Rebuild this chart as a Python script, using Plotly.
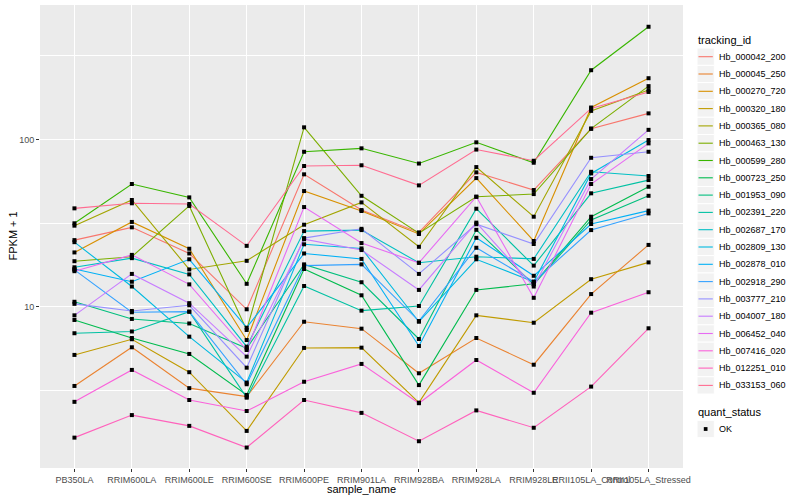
import plotly.graph_objects as go

samples = ["PB350LA", "RRIM600LA", "RRIM600LE", "RRIM600SE", "RRIM600PE",
           "RRIM901LA", "RRIM928BA", "RRIM928LA", "RRIM928LE",
           "RRII105LA_Control", "RRII105LA_Stressed"]

tracking_ids = ["Hb_000042_200", "Hb_000045_250", "Hb_000270_720", "Hb_000320_180",
                "Hb_000365_080", "Hb_000463_130", "Hb_000599_280", "Hb_000723_250",
                "Hb_001953_090", "Hb_002391_220", "Hb_002687_170", "Hb_002809_130",
                "Hb_002878_010", "Hb_002918_290", "Hb_003777_210", "Hb_004007_180",
                "Hb_006452_040", "Hb_007416_020", "Hb_012251_010", "Hb_033153_060"]

colors = ["#F8766D", "#EA8331", "#D89000", "#C09B00", "#A3A500", "#7CAE00", "#39B600",
          "#00BB4E", "#00BF7D", "#00C1A3", "#00BFC4", "#00BAE0", "#00B0F6", "#35A2FF",
          "#9590FF", "#C77CFF", "#E76BF3", "#FA62DB", "#FF62BC", "#FF6C91"]

# FPKM + 1 values, one list per gene, in sample order
Hb_000042_200 = [25.0, 29.8, 20.8, 9.65, 61.8, 37.8, 27.8, 63.5, 49.8, 115.7, 143]
Hb_000045_250 = [3.36, 5.72, 3.26, 2.90, 8.13, 7.39, 4.00, 6.50, 4.50, 11.9, 23.4]
Hb_000270_720 = [21.1, 32.1, 22.2, 6.32, 49.1, 37.3, 27.2, 58.7, 24.7, 155, 232]
Hb_000320_180 = [5.15, 6.39, 4.06, 1.81, 5.67, 5.69, 2.67, 8.88, 8.02, 14.6, 18.4]
Hb_000365_080 = [30.5, 43.4, 16.7, 18.8, 30.9, 42.0, 22.8, 68.3, 34.5, 148, 197]
Hb_000463_130 = [18.7, 19.9, 40.0, 7.26, 118, 46.0, 27.5, 45.4, 47.1, 116, 208]
Hb_000599_280 = [31.5, 54.1, 45.0, 13.7, 84.3, 88.4, 71.7, 96.0, 72.5, 259, 471]
Hb_000723_250 = [8.33, 6.50, 5.22, 2.97, 16.8, 11.7, 3.40, 12.6, 13.7, 34.5, 52.1]
Hb_001953_090 = [10.7, 8.45, 7.94, 5.64, 17.9, 14.0, 6.41, 28.8, 13.6, 33.0, 46.0]
Hb_002391_220 = [6.94, 7.11, 9.34, 2.86, 13.3, 9.47, 10.1, 38.5, 17.6, 47.6, 57.1]
Hb_002687_170 = [17.2, 19.5, 15.6, 5.77, 28.3, 28.7, 18.3, 19.9, 19.3, 64.0, 60.4]
Hb_002809_130 = [24.3, 13.2, 6.62, 3.52, 23.6, 22.3, 8.13, 19.2, 14.1, 62.6, 99.1]
Hb_002878_010 = [16.8, 14.1, 19.2, 7.49, 20.8, 19.3, 5.82, 25.8, 15.3, 31.2, 37.5]
Hb_002918_290 = [16.6, 9.26, 9.34, 3.44, 17.6, 17.9, 8.21, 22.5, 14.1, 28.7, 36.1]
Hb_003777_210 = [10.4, 9.43, 10.2, 4.32, 25.7, 29.2, 15.7, 31.1, 23.7, 77.6, 84.3]
Hb_004007_180 = [8.88, 15.7, 10.5, 5.03, 25.3, 21.8, 12.6, 31.8, 13.2, 57.9, 114]
Hb_006452_040 = [16.3, 20.4, 13.6, 5.51, 39.4, 24.0, 18.3, 45.4, 11.3, 54.1, 94.6]
Hb_007416_020 = [2.70, 4.19, 2.77, 2.38, 3.56, 4.55, 2.65, 4.80, 3.06, 9.21, 12.2]
Hb_012251_010 = [1.65, 2.25, 1.94, 1.44, 2.77, 2.32, 1.57, 2.40, 1.89, 3.33, 7.43]
Hb_033153_060 = [38.7, 41.5, 41.1, 23.1, 69.3, 70.0, 53.1, 86.9, 74.5, 153, 192]

series = [Hb_000042_200, Hb_000045_250, Hb_000270_720, Hb_000320_180, Hb_000365_080,
          Hb_000463_130, Hb_000599_280, Hb_000723_250, Hb_001953_090, Hb_002391_220,
          Hb_002687_170, Hb_002809_130, Hb_002878_010, Hb_002918_290, Hb_003777_210,
          Hb_004007_180, Hb_006452_040, Hb_007416_020, Hb_012251_010, Hb_033153_060]

quant_status = "OK"

FONT = "Liberation Sans"

fig = go.Figure()
for name, vals, col in zip(tracking_ids, series, colors):
    fig.add_trace(go.Scatter(x=samples, y=vals, mode="lines", name=name,
                             line=dict(color=col, width=1.1), showlegend=False,
                             hoverinfo="skip"))

all_x = [s for vals in series for s in samples]
all_y = [v for vals in series for v in vals]
fig.add_trace(go.Scatter(x=all_x, y=all_y, mode="markers", name=quant_status,
                         marker=dict(symbol="square", size=4, color="black"),
                         showlegend=False))

# plot area in pixels: x 40..683, y 5..468
L, R, T, B = 40, 117, 5, 32
W, H = 800 - L - R, 500 - T - B


def px_x(px):
    return (px - L) / W


def px_y(py):
    return (500 - B - py) / H


shapes = []
annotations = []

# axis titles
annotations.append(dict(x=px_x(361.5), y=px_y(489), xref="paper", yref="paper",
                        text="sample_name", showarrow=False, xanchor="center",
                        yanchor="middle", font=dict(family=FONT, size=11, color="black")))
annotations.append(dict(x=px_x(12), y=px_y(236.5), xref="paper", yref="paper",
                        text="FPKM + 1", showarrow=False, xanchor="center", textangle=-90,
                        yanchor="middle", font=dict(family=FONT, size=11, color="black")))

# manual ggplot-style legend
annotations.append(dict(x=px_x(696), y=px_y(40.5), xref="paper", yref="paper",
                        text="tracking_id", showarrow=False, xanchor="left",
                        yanchor="middle", font=dict(family=FONT, size=11, color="black")))
step = 17.3
y0 = 56.7
for i, (name, col) in enumerate(zip(tracking_ids, colors)):
    cy = y0 + i * step
    shapes.append(dict(type="rect", xref="paper", yref="paper",
                       x0=px_x(697), x1=px_x(714.3), y0=px_y(cy - step / 2), y1=px_y(cy + step / 2),
                       fillcolor="#F2F2F2", line=dict(color="white", width=1), layer="above"))
    shapes.append(dict(type="line", xref="paper", yref="paper",
                       x0=px_x(698.5), x1=px_x(712.8), y0=px_y(cy), y1=px_y(cy),
                       line=dict(color=col, width=1.1), layer="above"))
    annotations.append(dict(x=px_x(716.5), y=px_y(cy), xref="paper", yref="paper",
                            text=name, showarrow=False, xanchor="left", yanchor="middle",
                            font=dict(family=FONT, size=9, color="black")))

annotations.append(dict(x=px_x(696), y=px_y(411.5), xref="paper", yref="paper",
                        text="quant_status", showarrow=False, xanchor="left",
                        yanchor="middle", font=dict(family=FONT, size=11, color="black")))
cy = 429.0
shapes.append(dict(type="rect", xref="paper", yref="paper",
                   x0=px_x(697), x1=px_x(714.3), y0=px_y(cy - step / 2), y1=px_y(cy + step / 2),
                   fillcolor="#F2F2F2", line=dict(color="white", width=1), layer="above"))
shapes.append(dict(type="rect", xref="paper", yref="paper",
                   x0=px_x(703.8), x1=px_x(707.5), y0=px_y(cy - 1.9), y1=px_y(cy + 1.9),
                   fillcolor="black", line=dict(width=0), layer="above"))
annotations.append(dict(x=px_x(716.5), y=px_y(cy), xref="paper", yref="paper",
                        text=quant_status, showarrow=False, xanchor="left", yanchor="middle",
                        font=dict(family=FONT, size=9, color="black")))

fig.update_layout(
    width=800, height=500,
    margin=dict(l=L, r=R, t=T, b=B, autoexpand=False),
    paper_bgcolor="white", plot_bgcolor="#EBEBEB",
    font=dict(family=FONT, size=11, color="black"),
    shapes=shapes, annotations=annotations, showlegend=False,
)
fig.update_xaxes(
    type="category", categoryorder="array", categoryarray=samples,
    range=[-0.6, 10.6], showgrid=True, gridcolor="white", gridwidth=1.1,
    zeroline=False, showline=False, ticks="outside", ticklen=3, tickcolor="#333333",
    tickfont=dict(family=FONT, size=9, color="#4D4D4D"), tickangle=0, automargin=False,
)
fig.update_yaxes(
    type="log", range=[0.036, 2.803], tickvals=[10, 100], ticktext=["10", "100"],
    showgrid=True, gridcolor="white", gridwidth=1.1, zeroline=False, showline=False,
    ticks="outside", ticklen=3, tickcolor="#333333", automargin=False,
    tickfont=dict(family=FONT, size=9, color="#4D4D4D"),
    minor=dict(tickvals=[3.1623, 31.623, 316.23], showgrid=True, gridcolor="white",
               gridwidth=0.55, ticklen=0),
)

fig.write_html("out.html", config={"displayModeBar": False},
               post_script="document.body.style.margin='0';document.body.style.overflow='hidden';")
